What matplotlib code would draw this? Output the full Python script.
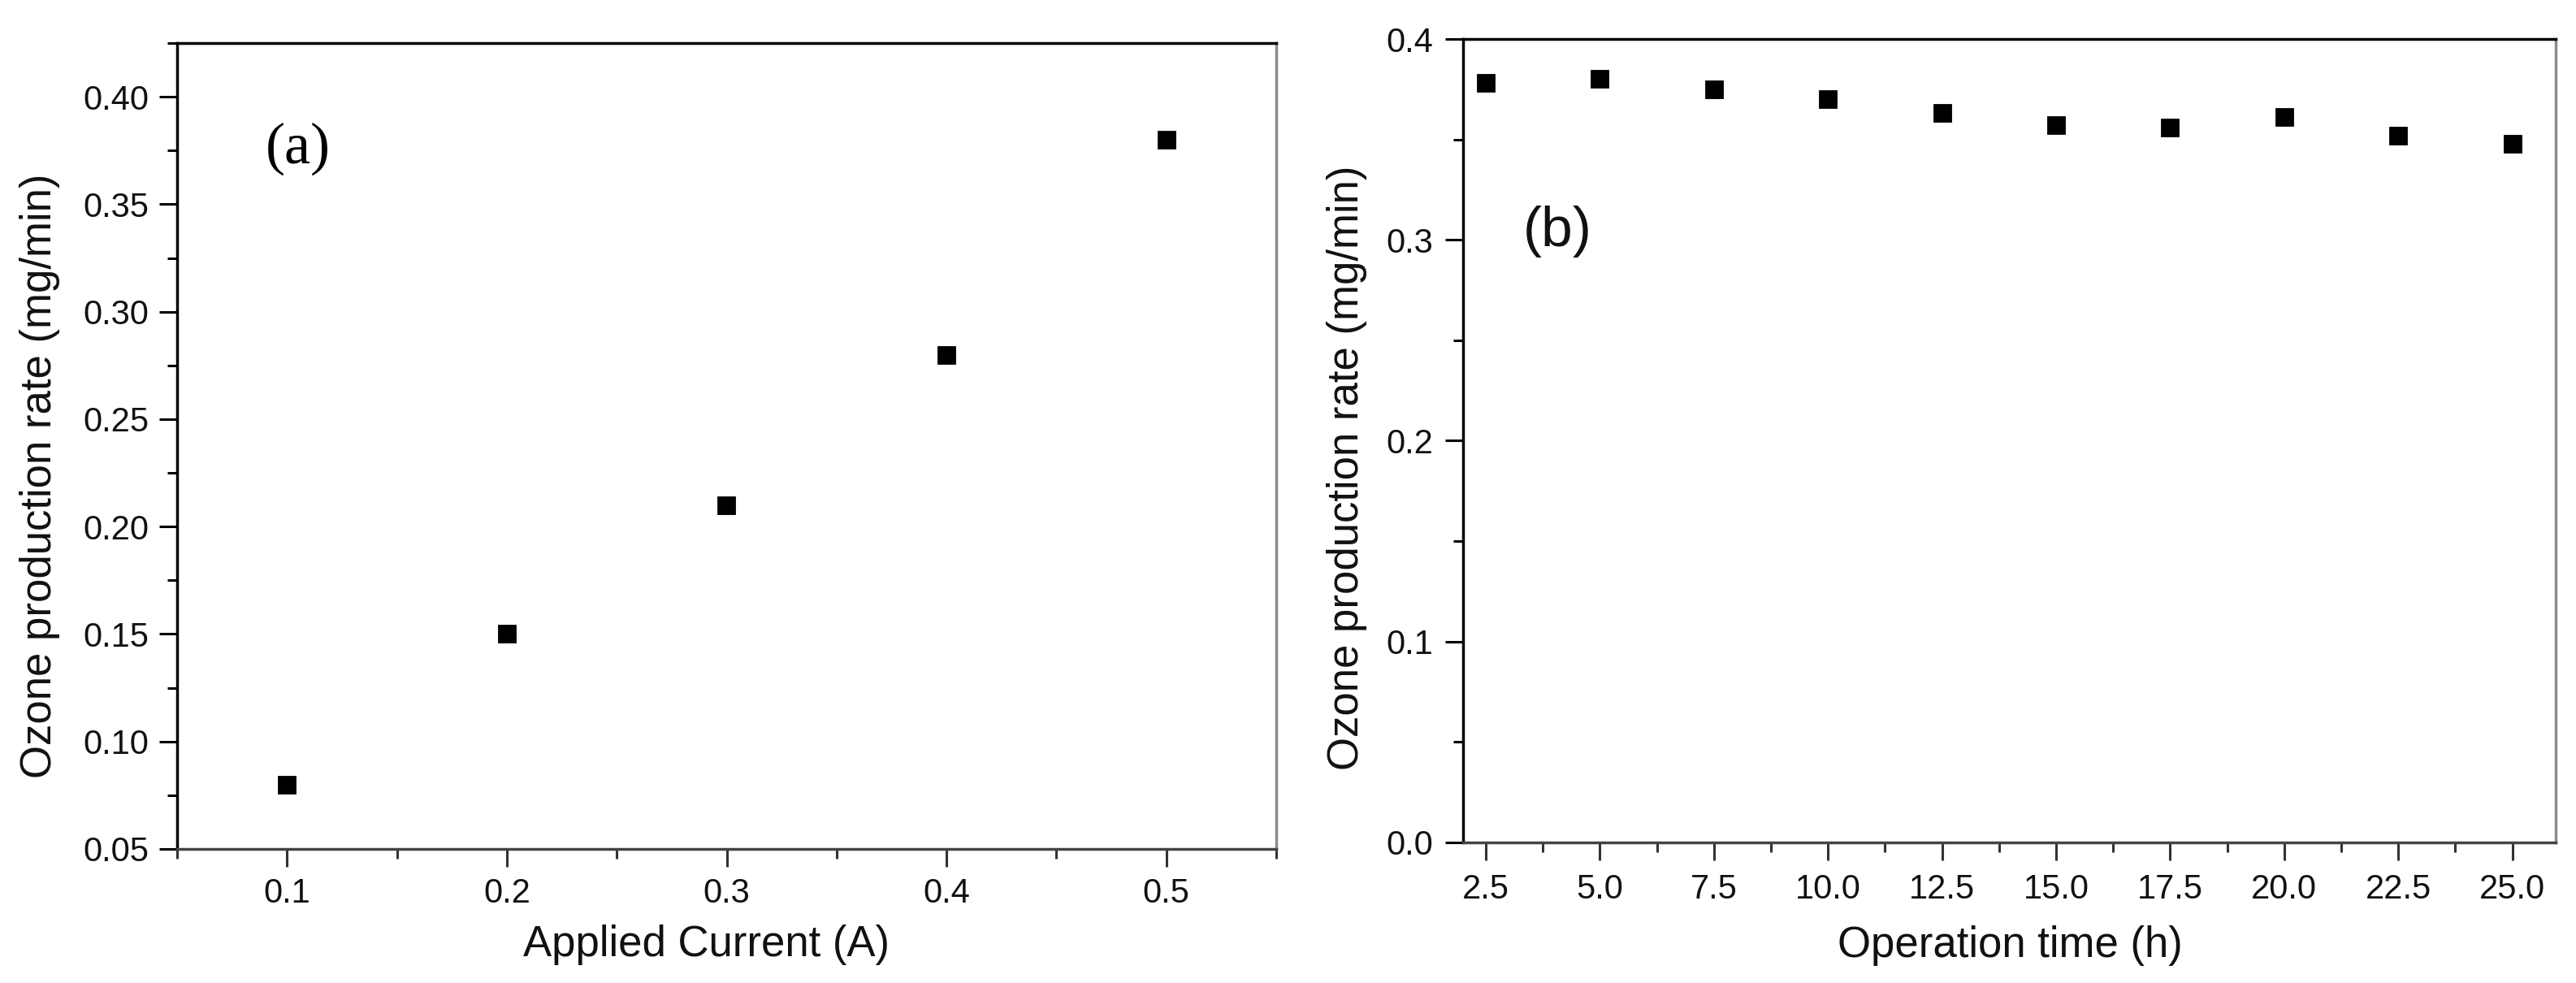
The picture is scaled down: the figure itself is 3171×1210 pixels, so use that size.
import matplotlib
matplotlib.use("Agg")
import matplotlib.pyplot as plt
from matplotlib.ticker import MultipleLocator, FormatStrFormatter

# ---- data ----
current_A = [0.1, 0.2, 0.3, 0.4, 0.5]
rate_a = [0.080, 0.150, 0.210, 0.280, 0.380]

time_h = [2.5, 5.0, 7.5, 10.0, 12.5, 15.0, 17.5, 20.0, 22.5, 25.0]
rate_b = [0.378, 0.380, 0.375, 0.370, 0.363, 0.357, 0.356, 0.361, 0.352, 0.348]

W, H = 3171, 1210
DPI = 100
fig = plt.figure(figsize=(W / DPI, H / DPI), dpi=DPI)
fig.patch.set_facecolor("white")

SANS = ["Liberation Sans", "DejaVu Sans"]
SERIF = ["Liberation Serif", "DejaVu Serif"]


def px_axes(x0, y0, x1, y1):
    return fig.add_axes([x0 / W, 1 - y1 / H, (x1 - x0) / W, (y1 - y0) / H])


def style(ax, xpad, ypad):
    for side in ["left", "top"]:
        ax.spines[side].set_color("black")
        ax.spines[side].set_linewidth(2.5)
    ax.spines["bottom"].set_color("#444444")
    ax.spines["bottom"].set_linewidth(2.5)
    ax.spines["right"].set_color("#8c8c8c")
    ax.spines["right"].set_linewidth(2.5)
    ax.tick_params(axis="both", which="both", direction="out", top=False, right=False)
    ax.tick_params(axis="both", which="major", length=15.8, width=2.2, labelsize=30)
    ax.tick_params(axis="both", which="minor", length=8.6, width=2.2)
    ax.tick_params(axis="x", which="major", pad=xpad)
    ax.tick_params(axis="y", which="major", pad=ypad)
    ax.tick_params(axis="x", which="both", color="#333333")
    ax.tick_params(axis="y", which="both", color="black")
    for lab in ax.get_xticklabels() + ax.get_yticklabels():
        lab.set_fontfamily(SANS)
        lab.set_color("#111111")


# ---- panel (a) ----
ax1 = px_axes(218, 53, 1571, 1045)
ax1.plot(current_A, rate_a, linestyle="none", marker="s", markersize=15.2,
         color="black", markeredgewidth=0.6)
ax1.set_xlim(0.05, 0.55)
ax1.set_ylim(0.05, 0.425)
ax1.xaxis.set_major_locator(MultipleLocator(0.1))
ax1.xaxis.set_minor_locator(MultipleLocator(0.05))
ax1.yaxis.set_major_locator(MultipleLocator(0.05))
ax1.yaxis.set_minor_locator(MultipleLocator(0.025))
ax1.xaxis.set_major_formatter(FormatStrFormatter("%.1f"))
ax1.yaxis.set_major_formatter(FormatStrFormatter("%.2f"))
style(ax1, xpad=9.4, ypad=9.4)

# ---- panel (b) ----
ax2 = px_axes(1801, 48, 3146, 1037)
ax2.plot(time_h, rate_b, linestyle="none", marker="s", markersize=15.2,
         color="black", markeredgewidth=0.6)
ax2.set_xlim(2.0, 25.95)
ax2.set_ylim(0.0, 0.4)
ax2.xaxis.set_major_locator(MultipleLocator(2.5))
ax2.xaxis.set_minor_locator(MultipleLocator(1.25))
ax2.yaxis.set_major_locator(MultipleLocator(0.1))
ax2.yaxis.set_minor_locator(MultipleLocator(0.05))
ax2.xaxis.set_major_formatter(FormatStrFormatter("%.1f"))
ax2.yaxis.set_major_formatter(FormatStrFormatter("%.1f"))
style(ax2, xpad=11.5, ypad=11)


def ftext(x, y, s, **kw):
    fig.text(x / W, 1 - y / H, s, **kw)


LBL = 38
ftext(870, 1177, "Applied Current (A)", ha="center", va="baseline",
      fontsize=LBL, family=SANS, color="#111111")
ftext(2474, 1178, "Operation time (h)", ha="center", va="baseline",
      fontsize=LBL, family=SANS, color="#111111")
ftext(63, 586, "Ozone production rate (mg/min)", ha="center", va="baseline",
      rotation=90, rotation_mode="anchor", fontsize=LBL, family=SANS, color="#111111")
ftext(1672, 576, "Ozone production rate (mg/min)", ha="center", va="baseline",
      rotation=90, rotation_mode="anchor", fontsize=LBL, family=SANS, color="#111111")

ftext(367, 201, "(a)", ha="center", va="baseline", fontsize=52, family=SERIF, color="black")
ftext(1917, 303, "(b)", ha="center", va="baseline", fontsize=50, family=SANS, color="#111111")

fig.savefig("out.png", dpi=DPI, facecolor="white")
